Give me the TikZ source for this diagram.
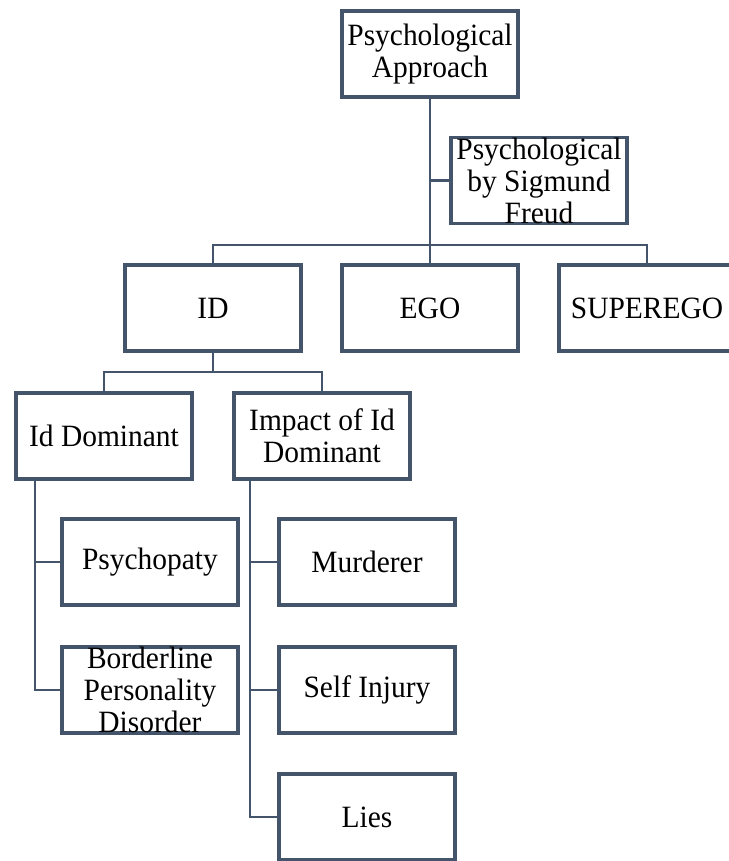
\documentclass[tikz,border=0pt]{standalone}
\usepackage{fontspec}
\setmainfont{Liberation Serif}[FakeStretch=0.95]
\usepackage{tikz}
\usepackage{xcolor}
\definecolor{slate}{HTML}{44546A}

\begin{document}
\begin{tikzpicture}[x=1pt, y=-1pt,
    box/.style={draw=slate, line width=3.6pt, minimum width=176pt, minimum height=86pt, inner sep=0pt, align=center, font=\fontsize{31}{32}\selectfont},
    link/.style={draw=slate, line width=2.4pt}]

        \useasboundingbox (0,0) rectangle (728,861);

        % Top level
        \node[box] (root) at (430,54) {Psychological\\Approach};
        \node[box] (freud) at (539,180.5) {Psychological\\by Sigmund\\Freud};

        % Structure of personality
        \node[box] (id) at (213,308) {ID};
        \node[box] (ego) at (430,308) {EGO};
        \node[box] (superego) at (647,308) {SUPEREGO};

        % Id branch
        \node[box] (iddom) at (104,436) {Id Dominant};
        \node[box] (impact) at (322,436) {Impact of Id\\Dominant};

        % Leaves
        \node[box] (psycho) at (150,562) {Psychopaty};
        \node[box] (border) at (150,690) {Borderline\\Personality\\Disorder};
        \node[box] (murder) at (367,562) {Murderer};
        \node[box] (selfinj) at (367,690) {Self Injury};
        \node[box] (lies) at (367,817) {Lies};

        % Junction points
        \coordinate (bar) at (430,245);
        \coordinate (idbar) at (213,372);
        \coordinate (idtrunk) at (35,0);
        \coordinate (imptrunk) at (250,0);

        % Connectors from the top
        \draw[link] (root) -- (ego);
        \draw[link] (root.south |- freud.west) -- (freud.west);
        \draw[link] (id.north) |- (bar) -| (superego.north);

        % Connectors under ID
        \draw[link] (id) -- (idbar);
        \draw[link] (iddom.north) |- (idbar) -| (impact.north);

        % Side trunks
        \draw[link] (iddom.south -| idtrunk) |- (border.west);
        \draw[link] (idtrunk |- psycho.west) -- (psycho.west);
        \draw[link] (impact.south -| imptrunk) |- (lies.west);
        \draw[link] (imptrunk |- murder.west) -- (murder.west);
        \draw[link] (imptrunk |- selfinj.west) -- (selfinj.west);

    \end{tikzpicture}
\end{document}
